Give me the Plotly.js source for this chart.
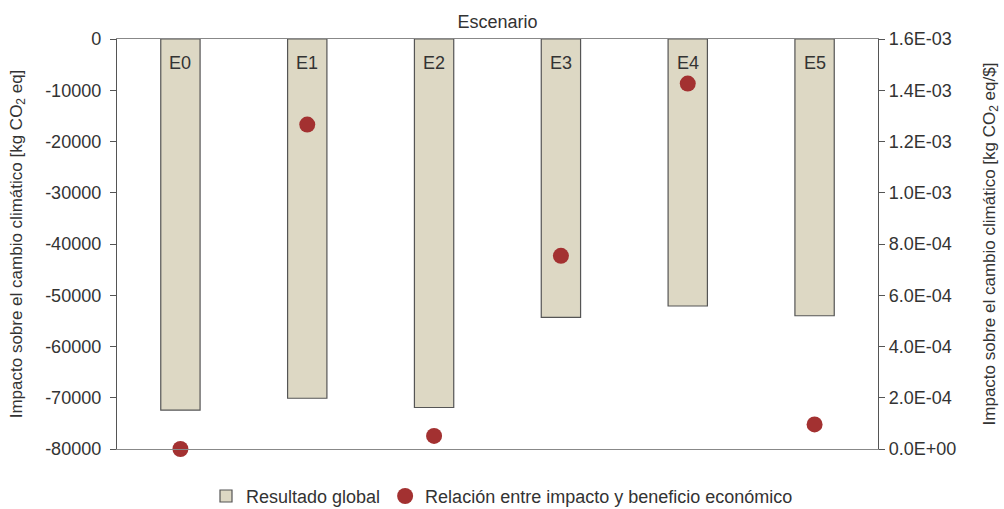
<!DOCTYPE html>
<html>
<head>
<meta charset="utf-8">
<script src="https://cdn.plot.ly/plotly-3.0.1.min.js"></script>
<style>html,body{margin:0;padding:0;background:#fff;}#chart{width:1004px;height:509px;}</style>
</head>
<body>
<div id="chart"></div>
<script>
const categories = ["E0", "E1", "E2", "E3", "E4", "E5"];
const resultadoGlobal = [-72400, -70100, -71900, -54300, -52100, -54000];
const relacion = [0.0, 1.266e-3, 5.1e-5, 7.54e-4, 1.426e-3, 9.6e-5];
const y1TickVals = [0, -10000, -20000, -30000, -40000, -50000, -60000, -70000, -80000];
const y1TickText = ["0", "-10000", "-20000", "-30000", "-40000", "-50000", "-60000", "-70000", "-80000"];
const y2TickVals = [0, 2e-4, 4e-4, 6e-4, 8e-4, 1.0e-3, 1.2e-3, 1.4e-3, 1.6e-3];
const y2TickText = ["0.0E+00", "2.0E-04", "4.0E-04", "6.0E-04", "8.0E-04", "1.0E-03", "1.2E-03", "1.4E-03", "1.6E-03"];

const font = "Liberation Sans, Arial, sans-serif";
const txt = "#333333";

const traces = [
  {
    type: "bar",
    name: "Resultado global",
    x: categories,
    y: resultadoGlobal,
    width: 0.31,
    marker: {color: "#DDD8C4", line: {color: "#555555", width: 1.2}},
    hoverinfo: "skip"
  },
  {
    type: "scatter",
    mode: "markers",
    name: "Relación entre impacto y beneficio económico",
    x: categories,
    y: relacion,
    yaxis: "y2",
    marker: {color: "#A33131", size: 16},
    cliponaxis: false,
    hoverinfo: "skip"
  }
];

// category labels drawn inside the top of the plot, positioned on the x scale
const annotations = categories.map(c => ({
  x: c, xref: "x",
  y: 1, yref: "paper",
  yanchor: "top", yshift: -12,
  text: c, showarrow: false,
  font: {family: font, size: 18, color: txt}
}));

const layout = {
  width: 1004,
  height: 509,
  margin: {l: 117, r: 126, t: 39, b: 60},
  paper_bgcolor: "#ffffff",
  plot_bgcolor: "#ffffff",
  font: {family: font, color: txt, size: 17},
  showlegend: true,
  legend: {
    orientation: "h",
    x: 0.5, xref: "container", xanchor: "center",
    y: 0.025, yref: "container", yanchor: "middle",
    font: {family: font, size: 18, color: txt},
    itemwidth: 30,
    tracegroupgap: 0
  },
  annotations: annotations,
  xaxis: {
    type: "category",
    side: "top",
    showticklabels: false,
    showline: true,
    linecolor: "#888888",
    linewidth: 1.2,
    mirror: true,
    showgrid: false,
    ticks: "",
    automargin: false,
    title: {text: "Escenario", font: {family: font, size: 18, color: txt}, standoff: 4},
    range: [-0.5, 5.5],
    fixedrange: true
  },
  yaxis: {
    range: [-80000, 0],
    tickvals: y1TickVals,
    ticktext: y1TickText,
    showline: true,
    linecolor: "#555555",
    linewidth: 1.2,
    showgrid: false,
    zeroline: false,
    ticks: "outside",
    ticklen: 6,
    tickcolor: "#555555",
    ticklabelstandoff: 5,
    automargin: false,
    tickfont: {family: font, size: 18, color: txt},
    title: {text: "Impacto sobre el cambio climático [kg CO<sub>2</sub> eq]", font: {family: font, size: 17, color: txt}, standoff: 18},
    fixedrange: true
  },
  yaxis2: {
    overlaying: "y",
    side: "right",
    range: [0, 1.6e-3],
    tickvals: y2TickVals,
    ticktext: y2TickText,
    showline: true,
    linecolor: "#555555",
    linewidth: 1.2,
    showgrid: false,
    zeroline: false,
    ticks: "outside",
    ticklen: 6,
    tickcolor: "#555555",
    automargin: false,
    tickfont: {family: font, size: 18, color: txt},
    title: {text: "Impacto sobre el cambio climático [kg CO<sub>2</sub> eq/$]", font: {family: font, size: 17, color: txt}, standoff: 27},
    fixedrange: true
  }
};

Plotly.newPlot("chart", traces, layout, {displayModeBar: false, staticPlot: true});
</script>
</body>
</html>
